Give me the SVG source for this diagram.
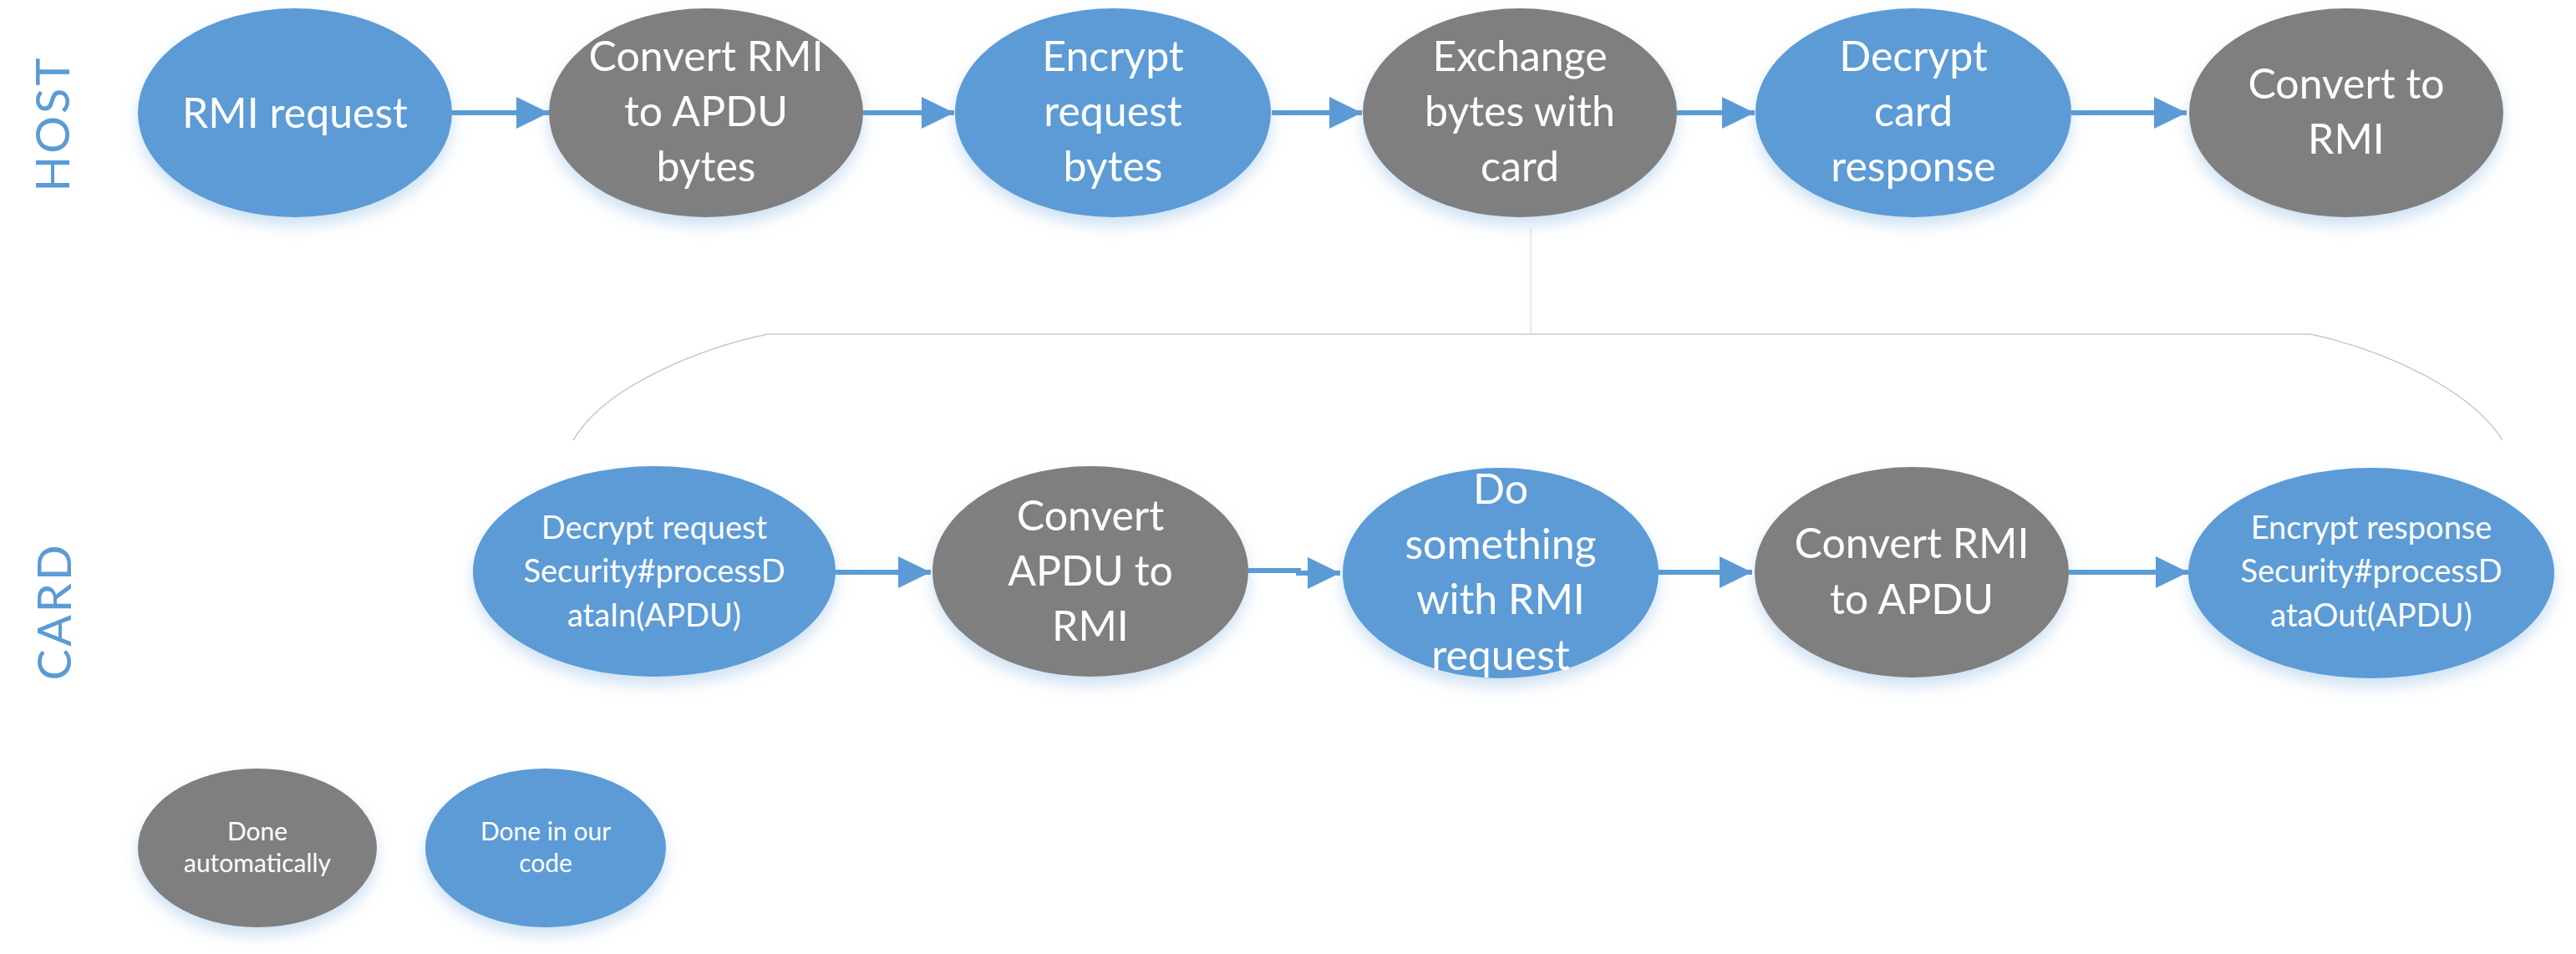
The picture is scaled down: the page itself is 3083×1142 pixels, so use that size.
<svg xmlns="http://www.w3.org/2000/svg" width="3083" height="1142" viewBox="0 0 3083 1142">
<style>
  .blue { fill: #5B9BD5; }
  .gray { fill: #7F7F7F; }
  .node ellipse { filter: url(#shadow); }
  .t { font-family: Lato, "Open Sans", "Liberation Sans", sans-serif; fill: #FFFFFF; text-anchor: middle; }
  .big { font-size: 50px; }
  .mid { font-size: 38px; }
  .small { font-size: 30px; }
  .lane { font-family: Lato, "Open Sans", "Liberation Sans", sans-serif; font-weight: 400; font-size: 56px; fill: #5B9BD5; text-anchor: middle; letter-spacing: 3px; }
  .arrow { fill: none; stroke: #5B9BD5; stroke-width: 6; marker-end: url(#head); }
  .bracket { fill: none; stroke: #C9C9C9; stroke-width: 1.5; }
</style>
<defs>
  <filter id="shadow" x="-20%" y="-20%" width="140%" height="150%">
    <feDropShadow dx="0" dy="10" stdDeviation="9" flood-color="#5B9BD5" flood-opacity="0.3"/>
  </filter>
  <marker id="head" markerUnits="userSpaceOnUse" markerWidth="40" markerHeight="40" refX="39" refY="19" orient="auto">
    <path d="M0,0 L39,19 L0,38 Z" fill="#5B9BD5"/>
  </marker>
</defs>
<rect width="3083" height="1142" fill="#FFFFFF"/>

<g id="lanes">
  <text class="lane" transform="translate(83,148) rotate(-90)">HOST</text>
  <text class="lane" transform="translate(85,732) rotate(-90)">CARD</text>
</g>

<g id="connectors">
  <line class="arrow" x1="541" y1="135" x2="657" y2="135"/>
  <line class="arrow" x1="1033" y1="135" x2="1142" y2="135"/>
  <line class="arrow" x1="1522" y1="135" x2="1630" y2="135"/>
  <line class="arrow" x1="2007" y1="135" x2="2100" y2="135"/>
  <line class="arrow" x1="2479" y1="135" x2="2617" y2="135"/>
  <line class="arrow" x1="1000" y1="685" x2="1114" y2="685"/>
  <polyline class="arrow" points="1494,683 1554,683 1554,686 1604,686"/>
  <line class="arrow" x1="1985" y1="685" x2="2097" y2="685"/>
  <line class="arrow" x1="2476" y1="685" x2="2619" y2="685"/>
  <line x1="1832" y1="272" x2="1832" y2="400" stroke="#DCE4EE" stroke-width="1.5"/>
  <path class="bracket" d="M686,527 C725,460 845,415 919,400 L2765,400 C2860,420 2960,470 2995,527"/>
</g>

<g id="n1" class="node">
  <ellipse class="blue" cx="353" cy="135" rx="188" ry="125"/>
  <text class="t big" x="353" y="153">RMI request</text>
</g>
<g id="n2" class="node">
  <ellipse class="gray" cx="845" cy="135" rx="188" ry="125"/>
  <text class="t big" x="845" y="85">Convert RMI</text>
  <text class="t big" x="845" y="151">to APDU</text>
  <text class="t big" x="845" y="217">bytes</text>
</g>
<g id="n3" class="node">
  <ellipse class="blue" cx="1332" cy="135" rx="189" ry="125"/>
  <text class="t big" x="1332" y="85">Encrypt</text>
  <text class="t big" x="1332" y="151">request</text>
  <text class="t big" x="1332" y="217">bytes</text>
</g>
<g id="n4" class="node">
  <ellipse class="gray" cx="1819" cy="135" rx="188" ry="125"/>
  <text class="t big" x="1819" y="85">Exchange</text>
  <text class="t big" x="1819" y="151">bytes with</text>
  <text class="t big" x="1819" y="217">card</text>
</g>
<g id="n5" class="node">
  <ellipse class="blue" cx="2290" cy="135" rx="189" ry="125"/>
  <text class="t big" x="2290" y="85">Decrypt</text>
  <text class="t big" x="2290" y="151">card</text>
  <text class="t big" x="2290" y="217">response</text>
</g>
<g id="n6" class="node">
  <ellipse class="gray" cx="2808" cy="135" rx="188" ry="125"/>
  <text class="t big" x="2808" y="118">Convert to</text>
  <text class="t big" x="2808" y="184">RMI</text>
</g>

<g id="c1" class="node">
  <ellipse class="blue" cx="783" cy="684" rx="217" ry="126"/>
  <text class="t mid" x="783" y="645">Decrypt request</text>
  <text class="t mid" x="783" y="697">Security#processD</text>
  <text class="t mid" x="783" y="750">ataIn(APDU)</text>
</g>
<g id="c2" class="node">
  <ellipse class="gray" cx="1305" cy="684" rx="189" ry="126"/>
  <text class="t big" x="1305" y="635">Convert</text>
  <text class="t big" x="1305" y="701">APDU to</text>
  <text class="t big" x="1305" y="767">RMI</text>
</g>
<g id="c3" class="node">
  <ellipse class="blue" cx="1796" cy="686" rx="189" ry="126"/>
  <text class="t big" x="1796" y="603">Do</text>
  <text class="t big" x="1796" y="669">something</text>
  <text class="t big" x="1796" y="735">with RMI</text>
  <text class="t big" x="1796" y="802">request</text>
</g>
<g id="c4" class="node">
  <ellipse class="gray" cx="2288" cy="685" rx="188" ry="126"/>
  <text class="t big" x="2288" y="668">Convert RMI</text>
  <text class="t big" x="2288" y="735">to APDU</text>
</g>
<g id="c5" class="node">
  <ellipse class="blue" cx="2838" cy="686" rx="219" ry="126"/>
  <text class="t mid" x="2838" y="645">Encrypt response</text>
  <text class="t mid" x="2838" y="697">Security#processD</text>
  <text class="t mid" x="2838" y="750">ataOut(APDU)</text>
</g>

<g id="legend-auto" class="node">
  <ellipse class="gray" cx="308" cy="1015" rx="143" ry="95"/>
  <text class="t small" x="308" y="1006">Done</text>
  <text class="t small" x="308" y="1044">automatically</text>
</g>
<g id="legend-code" class="node">
  <ellipse class="blue" cx="653" cy="1015" rx="144" ry="95"/>
  <text class="t small" x="653" y="1006">Done in our</text>
  <text class="t small" x="653" y="1044">code</text>
</g>
</svg>
